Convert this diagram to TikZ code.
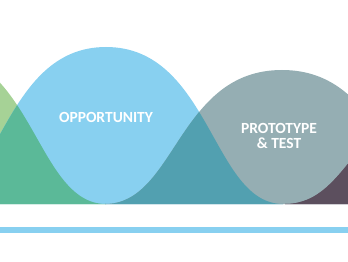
\documentclass[tikz,border=0pt]{standalone}
\usepackage{fontspec}
\newfontfamily\wavefont{Carlito}
\usepackage{tikz}
\usetikzlibrary{positioning}

% one bump: centre, half width, top (base line at 204)
\newcommand{\wavebump}[3]{(#1-#2,204) .. controls (#1-0.6*#2,204) and (#1-0.59*#2,#3) .. (#1,#3)
    .. controls (#1+0.59*#2,#3) and (#1+0.6*#2,204) .. (#1+#2,204) -- cycle}

\definecolor{lgreen}{HTML}{A6D296}
\definecolor{skyblue}{HTML}{88D0F0}
\definecolor{slategrey}{HTML}{95AEB3}
\definecolor{plum}{HTML}{6A5A6C}
\definecolor{greensky}{HTML}{5BB998}
\definecolor{skyslate}{HTML}{52A0B0}
\definecolor{slateplum}{HTML}{5C4F5E}

\begin{document}
\begin{tikzpicture}[x=1pt, y=-1pt,
    steplabel/.style={text=white, align=center,
                      font=\wavefont\bfseries\fontsize{15.5}{15}\selectfont},
]
\useasboundingbox (0,0) rectangle (348,262);
\clip (0,0) rectangle (348,262);

% Bumps
\fill[lgreen] \wavebump{-70}{176}{50};
\fill[skyblue] \wavebump{106}{177}{47};
\fill[slategrey] \wavebump{282}{177}{70};
\fill[plum] \wavebump{455}{170}{99};

% Overlaps
\begin{scope}
    \clip \wavebump{106}{177}{47};
    \fill[greensky] \wavebump{-70}{176}{50};
    \fill[skyslate] \wavebump{282}{177}{70};
\end{scope}
\begin{scope}
    \clip \wavebump{282}{177}{70};
    \fill[slateplum] \wavebump{455}{170}{99};
\end{scope}

% Labels
\node[steplabel] (opp) at (106,117) {OPPORTUNITY};
\node[steplabel] (proto) at (279,136) {PROTOTYPE\\\& TEST};

% Bottom bar
\fill[skyblue] (0,227) rectangle (348,233);
\end{tikzpicture}
\end{document}
